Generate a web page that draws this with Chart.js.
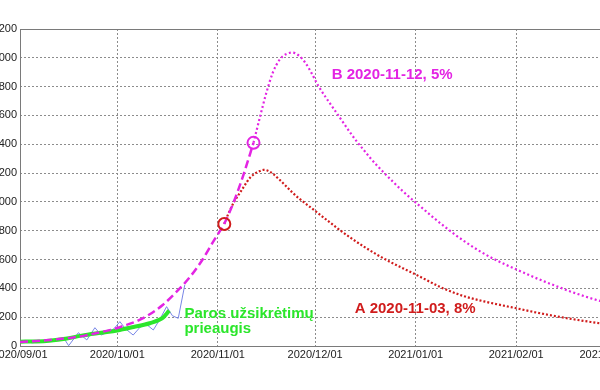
<!DOCTYPE html>
<html>
<head>
<meta charset="utf-8">
<script src="https://cdn.jsdelivr.net/npm/chart.js@4"></script>
<style>
  html, body { margin: 0; padding: 0; background: #fff; }
  #wrap { position: relative; width: 600px; height: 390px; overflow: hidden; }
  #c { position: absolute; left: -50px; top: 0; }
</style>
</head>
<body>
<div id="wrap"><canvas id="c" width="700" height="390"></canvas></div>
<script>
// days counted from 2020/09/01
var tickDays = [0, 30, 61, 91, 122, 153, 181];
var tickLabels = ["2020/09/01", "2020/10/01", "2020/11/01", "2020/12/01", "2021/01/01", "2021/02/01", "2021/03/01"];

// daily increase (raw)
var rawDays = [0, 2, 4, 6, 8, 10, 12, 13.5, 15, 18, 20.6, 23.1, 25, 27, 29, 30.8, 32.5, 34.9, 37, 39, 41.1, 43, 45.2, 47, 48.8, 50.8];
var rawValues = [30, 28, 22, 35, 40, 38, 48, 55, 2, 92, 42, 127, 76, 95, 120, 169, 120, 76, 130, 150, 111, 180, 273, 210, 192, 423];

// smoothed daily increase
var smoothDays = [0, 5, 9, 14, 19, 25, 30, 35, 40, 44, 46];
var smoothValues = [30, 32, 37, 50, 72, 92, 108, 132, 158, 195, 245];

// exponential fit
var fitDays = [0, 4, 8, 12, 16, 20, 24, 28, 32, 36, 40, 44, 48, 52, 56, 60, 63, 66, 69, 72];
var fitValues = [28, 33, 40, 48, 58, 72, 92, 112, 140, 172, 220, 285, 370, 468, 590, 740, 850, 1005, 1195, 1410];

// scenario A: 2020-11-03, 8%
var aDays = [63, 64, 65, 66, 67, 68, 69, 70, 71, 72, 73, 74, 75, 76, 77, 78, 80, 82, 84, 86, 90, 94, 98, 102, 106, 110, 114, 118, 123, 130, 137, 144, 153, 162, 170, 178, 181];
var aValues = [847, 905, 955, 1000, 1035, 1070, 1105, 1140, 1170, 1190, 1205, 1215, 1222, 1220, 1210, 1195, 1155, 1110, 1065, 1025, 955, 885, 815, 750, 690, 635, 585, 540, 485, 405, 345, 305, 262, 220, 188, 160, 150];

// scenario B: 2020-11-12, 5%
var bDays = [72, 74, 76, 78, 80, 82, 84, 86, 88, 90, 92, 94, 96, 98, 100, 102, 104, 106, 108, 110, 112, 115, 118, 121, 124, 127, 130, 134, 138, 142, 146, 150, 154, 158, 162, 166, 170, 174, 178, 181];
var bValues = [1410, 1590, 1760, 1900, 1985, 2025, 2036, 2015, 1965, 1890, 1805, 1735, 1670, 1605, 1540, 1475, 1415, 1360, 1305, 1255, 1208, 1140, 1075, 1015, 958, 900, 845, 775, 712, 655, 605, 562, 522, 482, 445, 410, 376, 346, 318, 300];

// start points of the scenarios
var startDays = [63, 72];
var startValues = [847, 1410];

function pts(xs, ys) {
  return xs.map(function (x, i) { return { x: x, y: ys[i] }; });
}

var MAGENTA = "#e324e3";
var RED = "#d01c1c";
var GREEN = "#2be62b";

var extras = {
  id: "extras",
  beforeDatasetsDraw: function (chart) {
    var a = chart.chartArea, ctx = chart.ctx;
    ctx.save();
    ctx.strokeStyle = "#7a7a7a";
    ctx.lineWidth = 1;
    ctx.strokeRect(Math.round(a.left) + 0.5, Math.round(a.top) + 0.5, Math.round(a.right - a.left), Math.round(a.bottom - a.top));
    ctx.restore();
  },
  afterDatasetsDraw: function (chart) {
    var ctx = chart.ctx, x = chart.scales.x, y = chart.scales.y;
    ctx.save();
    ctx.font = "bold 15px Arial, 'Liberation Sans', sans-serif";
    ctx.textBaseline = "alphabetic";
    ctx.textAlign = "left";
    ctx.fillStyle = MAGENTA;
    ctx.fillText("B 2020-11-12, 5%", x.getPixelForValue(96.1), y.getPixelForValue(1853));
    ctx.fillStyle = RED;
    ctx.fillText("A 2020-11-03, 8%", x.getPixelForValue(103.2), y.getPixelForValue(231));
    ctx.fillStyle = GREEN;
    ctx.fillText("Paros užsikrėtimų", x.getPixelForValue(50.7), y.getPixelForValue(197));
    ctx.fillText("prieaugis", x.getPixelForValue(50.7), y.getPixelForValue(90));
    ctx.restore();
  }
};

new Chart(document.getElementById("c"), {
  type: "line",
  data: {
    datasets: [
      { data: pts(startDays, startValues), showLine: false, pointRadius: 6, pointBorderWidth: 2,
        pointBackgroundColor: "rgba(0,0,0,0)", pointBorderColor: [RED, MAGENTA], order: 0 },
      { data: pts(fitDays, fitValues), borderColor: MAGENTA, borderWidth: 2.5, borderDash: [8, 4],
        pointRadius: 0, cubicInterpolationMode: "monotone", order: 1 },
      { data: pts(smoothDays, smoothValues), borderColor: GREEN, borderWidth: 4,
        pointRadius: 0, cubicInterpolationMode: "monotone", order: 2 },
      { data: pts(rawDays, rawValues), borderColor: "#7886e6", borderWidth: 1,
        pointRadius: 0, tension: 0, order: 3 },
      { data: pts(aDays, aValues), borderColor: RED, borderWidth: 2.2, borderDash: [2, 2],
        pointRadius: 0, cubicInterpolationMode: "monotone", order: 4 },
      { data: pts(bDays, bValues), borderColor: MAGENTA, borderWidth: 2.2, borderDash: [2, 2.5],
        pointRadius: 0, cubicInterpolationMode: "monotone", order: 4 }
    ]
  },
  options: {
    responsive: false,
    animation: false,
    devicePixelRatio: 1,
    layout: { padding: { left: 0, right: 43, top: 29, bottom: 0 } },
    plugins: { legend: { display: false }, tooltip: { enabled: false } },
    scales: {
      x: {
        type: "linear",
        min: 0,
        max: 181,
        afterBuildTicks: function (scale) {
          scale.ticks = tickDays.map(function (d) { return { value: d }; });
        },
        afterFit: function (scale) { scale.height = 44; },
        ticks: {
          autoSkip: false,
          maxRotation: 0,
          padding: 2,
          color: "#222",
          font: { family: "Arial, 'Liberation Sans', sans-serif", size: 11 },
          callback: function (v) {
            var i = tickDays.indexOf(v);
            return i >= 0 ? tickLabels[i] : "";
          }
        },
        grid: { color: "#8c8c8c", lineWidth: 1, drawTicks: false },
        border: { display: false, dash: [2, 2] }
      },
      y: {
        min: 0,
        max: 2200,
        afterFit: function (scale) { scale.width = 70; },
        ticks: {
          stepSize: 200,
          padding: 3,
          color: "#222",
          font: { family: "Arial, 'Liberation Sans', sans-serif", size: 11 },
          callback: function (v) { return String(v); }
        },
        grid: { color: "#8c8c8c", lineWidth: 1, drawTicks: false },
        border: { display: false, dash: [2, 2] }
      }
    }
  },
  plugins: [extras]
});
</script>
</body>
</html>
